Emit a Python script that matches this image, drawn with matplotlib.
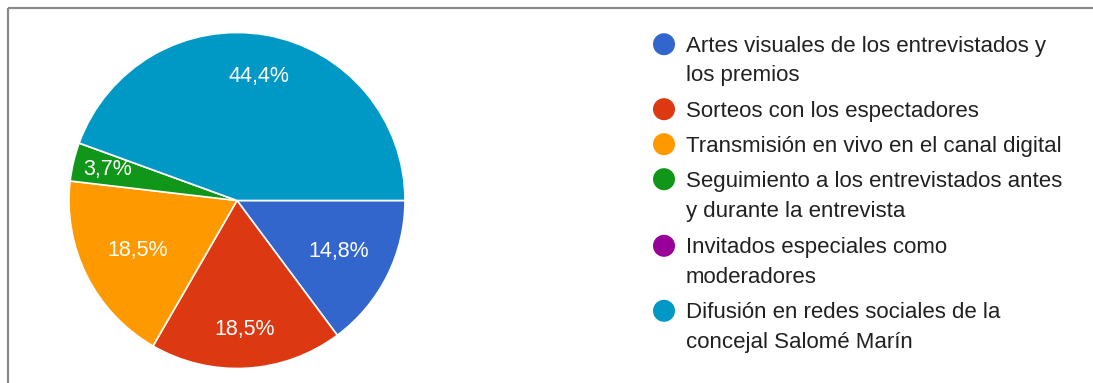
import matplotlib
matplotlib.use("Agg")
import matplotlib.pyplot as plt
from matplotlib.patches import Circle
import numpy as np

# Survey responses (27 respondents)
categories = [
    "Artes visuales de los entrevistados y\nlos premios",
    "Sorteos con los espectadores",
    "Transmisión en vivo en el canal digital",
    "Seguimiento a los entrevistados antes\ny durante la entrevista",
    "Invitados especiales como\nmoderadores",
    "Difusión en redes sociales de la\nconcejal Salomé Marín",
]
counts = [4, 5, 5, 1, 0, 12]
colors = ["#3366CC", "#DC3912", "#FF9900", "#109618", "#990099", "#0099C6"]

# radial position of each percentage label (fraction of radius)
label_dist = [0.68, 0.77, 0.66, 0.79, 0.7, 0.75]

W, H = 1093, 383
fig = plt.figure(figsize=(W / 100, H / 100), dpi=100)
FONT = "Liberation Sans"

# pie axes placed in pixel units
cx, cy, R = 237, 200.5, 168
ax = fig.add_axes([(cx - R) / W, (H - cy - R) / H, 2 * R / W, 2 * R / H])

total = sum(counts)
wedges, _ = ax.pie(
    counts, colors=colors, startangle=0, counterclock=False, radius=1,
    wedgeprops=dict(edgecolor="white", linewidth=1.2),
)
ax.set_xlim(-1, 1)
ax.set_ylim(-1, 1)
ax.set_aspect("equal")
ax.axis("off")

# percentage labels
theta = 0.0
for n, d in zip(counts, label_dist):
    frac = n / total
    span = 360 * frac
    if n > 0:
        mid = np.deg2rad(theta - span / 2)
        txt = f"{100 * frac:.1f}%".replace(".", ",")
        ax.text(d * np.cos(mid), d * np.sin(mid), txt, color="white",
                ha="center", va="center", fontsize=15.5, family=FONT)
    theta -= span

# overlay in pixel coordinates for frame and legend
ov = fig.add_axes([0, 0, 1, 1], facecolor="none")
ov.set_xlim(0, W)
ov.set_ylim(H, 0)
ov.axis("off")

# frame lines (top and left)
ov.plot([7.5, W + 5], [7.5, 7.5], color="#8a8a8a", lw=1.6, solid_capstyle="butt")
ov.plot([7.5, 7.5], [7.5, H + 5], color="#8a8a8a", lw=1.6, solid_capstyle="butt")

# legend
baselines = [51.7, 116.7, 151.7, 186.7, 253.3, 318.3]
line_gap = 29.8
for label, col, b in zip(categories, colors, baselines):
    ov.add_patch(Circle((664, b - 7.5), 11, color=col, lw=0))
    for i, line in enumerate(label.split("\n")):
        ov.text(686, b + i * line_gap, line, color="#212121", fontsize=16,
                family=FONT, ha="left", va="baseline")

fig.savefig("out.png", dpi=100, facecolor="white")
